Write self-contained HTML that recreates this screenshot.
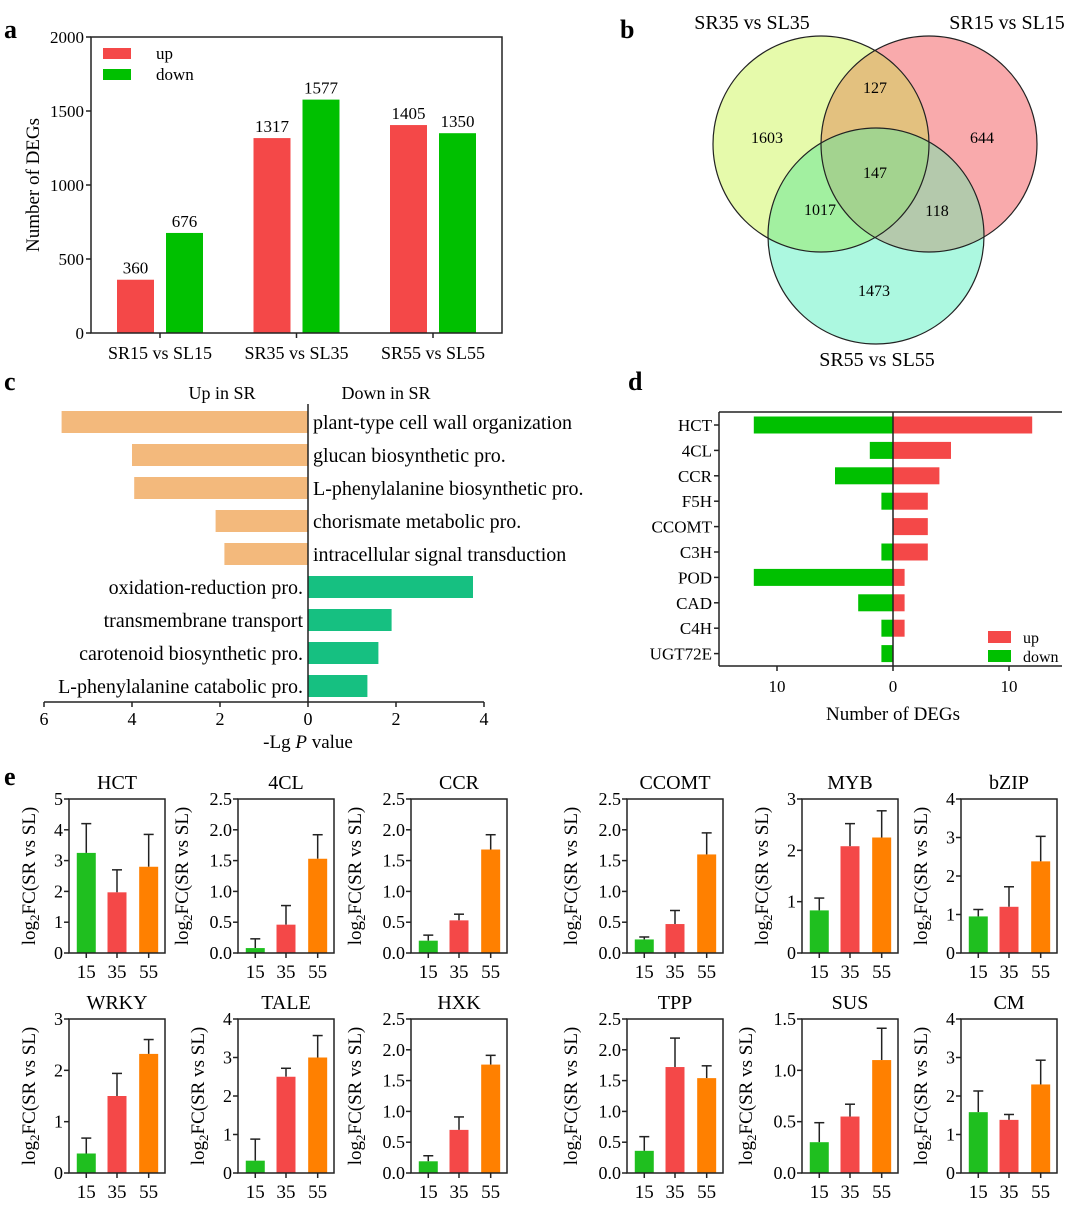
<!DOCTYPE html>
<html><head><meta charset="utf-8"><style>
html,body{margin:0;padding:0;background:#fff;}
svg, svg text{font-family:"Liberation Serif","DejaVu Serif",serif;}
</style></head><body>
<svg id="fig" width="1080" height="1207" viewBox="0 0 1080 1207" xmlns="http://www.w3.org/2000/svg" font-family="Liberation Serif, DejaVu Serif, serif">
<defs>
<clipPath id="cy"><circle cx="821" cy="144" r="108"/></clipPath>
<clipPath id="cr"><circle cx="929" cy="144" r="108"/></clipPath>
<clipPath id="cc"><circle cx="876" cy="236" r="108"/></clipPath>
</defs>
<text x="4" y="38" font-size="26" font-weight="bold">a</text>
<text x="620" y="38" font-size="26" font-weight="bold">b</text>
<text x="4" y="390" font-size="26" font-weight="bold">c</text>
<text x="628" y="390" font-size="26" font-weight="bold">d</text>
<text x="4" y="785" font-size="26" font-weight="bold">e</text>
<g id="venn">
<circle cx="821" cy="144" r="108" fill="#e6faab"/>
<circle cx="929" cy="144" r="108" fill="#f9aaac"/>
<circle cx="876" cy="236" r="108" fill="#acf8e0"/>
<g clip-path="url(#cy)"><circle cx="929" cy="144" r="108" fill="#e3c17f"/></g>
<g clip-path="url(#cy)"><circle cx="876" cy="236" r="108" fill="#a2f0a0"/></g>
<g clip-path="url(#cr)"><circle cx="876" cy="236" r="108" fill="#b4c9ac"/></g>
<g clip-path="url(#cy)"><g clip-path="url(#cr)"><circle cx="876" cy="236" r="108" fill="#a3d38f"/></g></g>
<circle cx="821" cy="144" r="108" fill="none" stroke="#222" stroke-width="1.2"/>
<circle cx="929" cy="144" r="108" fill="none" stroke="#222" stroke-width="1.2"/>
<circle cx="876" cy="236" r="108" fill="none" stroke="#222" stroke-width="1.2"/>
<g font-size="16" text-anchor="middle">
<text x="767" y="143">1603</text>
<text x="875" y="93">127</text>
<text x="982" y="143">644</text>
<text x="875" y="178">147</text>
<text x="820" y="215">1017</text>
<text x="937" y="216">118</text>
<text x="874" y="296">1473</text>
</g>
<g font-size="20" text-anchor="middle">
<text x="752" y="29">SR35 vs SL35</text>
<text x="1007" y="29">SR15 vs SL15</text>
<text x="877" y="366">SR55 vs SL55</text>
</g>
</g>
</svg>
<script>
// ---- Panel a data ----
const aCats = ["SR15 vs SL15","SR35 vs SL35","SR55 vs SL55"];
const aUp = [360,1317,1405];
const aDown = [676,1577,1350];
const aTicks = [0,500,1000,1500,2000];
// ---- Panel c data ----
const cUpTerms = ["plant-type cell wall organization","glucan biosynthetic pro.","L-phenylalanine biosynthetic pro.","chorismate metabolic pro.","intracellular signal transduction"];
const cUpVals = [5.6,4.0,3.95,2.1,1.9];
const cDownTerms = ["oxidation-reduction pro.","transmembrane transport","carotenoid biosynthetic pro.","L-phenylalanine catabolic pro."];
const cDownVals = [3.75,1.9,1.6,1.35];
const cTicks = [-6,-4,-2,0,2,4];
// ---- Panel d data ----
const dGenes = ["HCT","4CL","CCR","F5H","CCOMT","C3H","POD","CAD","C4H","UGT72E"];
const dUp = [12,5,4,3,3,3,1,1,1,0];
const dDown = [12,2,5,1,0,1,12,3,1,1];
const dTicks = [-10,0,10];
// ---- Panel e data ----
const eGenes = ["HCT","4CL","CCR","CCOMT","MYB","bZIP","WRKY","TALE","HXK","TPP","SUS","CM"];
const eMax = [5,2.5,2.5,2.5,3,4,3,4,2.5,2.5,1.5,4];
const eStep = [1,0.5,0.5,0.5,1,1,1,1,0.5,0.5,0.5,1];
const eV15 = [3.25,0.08,0.2,0.22,0.83,0.95,0.38,0.32,0.19,0.36,0.3,1.58];
const eV35 = [1.97,0.46,0.53,0.47,2.08,1.2,1.5,2.5,0.7,1.72,0.55,1.38];
const eV55 = [2.8,1.53,1.68,1.6,2.25,2.38,2.32,3.0,1.76,1.54,1.1,2.3];
const eE15 = [0.95,0.15,0.09,0.04,0.24,0.18,0.3,0.56,0.09,0.23,0.19,0.55];
const eE35 = [0.73,0.31,0.1,0.22,0.44,0.52,0.44,0.22,0.21,0.47,0.12,0.14];
const eE55 = [1.05,0.39,0.24,0.35,0.52,0.65,0.28,0.57,0.15,0.2,0.31,0.63];
const eXLabels = ["15","35","55"];

const NS="http://www.w3.org/2000/svg";
const svg=document.getElementById('fig');
function el(tag,attrs,parent,text){const e=document.createElementNS(NS,tag);for(const k in attrs)e.setAttribute(k,attrs[k]);if(text!==undefined)e.textContent=text;(parent||svg).appendChild(e);return e;}
function line(x1,y1,x2,y2,p,w){return el('line',{x1,y1,x2,y2,stroke:'#222','stroke-width':w||1.5},p);}

// ===== Panel a =====
(function(){
  const g=el('g',{});
  
  
  const L=91,R=502,T=37,B=333,max=2000;
  const y=v=>B-(v/max)*(B-T);
  const gc=[160,297,433];
  const x=i=>gc[0]+i*(gc[2]-gc[0])/(aCats.length-1);
  aCats.forEach((c,i)=>{
    const cx=x(i);
    const r=el('rect',{x:cx-43,y:y(aUp[i]),width:37,height:B-y(aUp[i]),fill:'#f44848'},g);
    
    
    const d=el('rect',{x:cx+6,y:y(aDown[i]),width:37,height:B-y(aDown[i]),fill:'#00c000'},g);
    
    
    el('text',{x:cx-24.5,y:y(aUp[i])-6,'font-size':17,'text-anchor':'middle'},g,String(aUp[i]));
    el('text',{x:cx+24.5,y:y(aDown[i])-6,'font-size':17,'text-anchor':'middle'},g,String(aDown[i]));
    line(cx,B,cx,B+5,g);
    const t=el('text',{x:cx,y:359,'font-size':18,'text-anchor':'middle'},g,c);
    
    
  });
  el('rect',{x:L,y:T,width:R-L,height:B-T,fill:'none',stroke:'#222','stroke-width':1.5},g);
  aTicks.forEach(v=>{line(L-5,y(v),L,y(v),g);el('text',{x:L-7,y:y(v)+6,'font-size':17,'text-anchor':'end'},g,String(v));});
  const yt=el('text',{x:0,y:0,'font-size':19,'text-anchor':'middle',transform:'translate(39,185) rotate(-90)'},g,'Number of DEGs');
  
  
  el('rect',{x:103,y:48,width:28,height:11,fill:'#f44848'},g);
  el('text',{x:156,y:59,'font-size':17},g,'up');
  el('rect',{x:103,y:69,width:28,height:11,fill:'#00c000'},g);
  el('text',{x:156,y:80,'font-size':17},g,'down');
})();

// ===== Panel c =====
(function(){
  const g=el('g',{});
  
  
  const x0=308,k=44,axY=702,row0=422,dy=33,bh=22;
  const x=v=>x0+v*k;
  cUpTerms.forEach((t,i)=>{
    const cy=row0+i*dy;
    const r=el('rect',{x:x(-cUpVals[i]),y:cy-bh/2,width:cUpVals[i]*k,height:bh,fill:'#f3b97c'},g);
    
    
    el('text',{x:x0+5,y:cy+7,'font-size':20},g,t);
  });
  cDownTerms.forEach((t,i)=>{
    const cy=row0+(i+cUpTerms.length)*dy;
    const r=el('rect',{x:x0,y:cy-bh/2,width:cDownVals[i]*k,height:bh,fill:'#16c081'},g);
    
    
    el('text',{x:x0-5,y:cy+7,'font-size':20,'text-anchor':'end'},g,t);
  });
  line(x0,404,x0,axY,g,1.5);
  line(x(cTicks[0]),axY,x(cTicks[cTicks.length-1]),axY,g,1.5);
  cTicks.forEach(v=>{line(x(v),axY,x(v),axY+5,g);el('text',{x:x(v),y:725,'font-size':18,'text-anchor':'middle'},g,String(Math.abs(v)));});
  const tt=el('text',{x:x0,y:748,'font-size':19,'text-anchor':'middle'},g);
  
  
  tt.innerHTML='-Lg <tspan font-style="italic">P</tspan> value';
  el('text',{x:222,y:399,'font-size':18,'text-anchor':'middle'},g,'Up in SR');
  el('text',{x:386,y:399,'font-size':18,'text-anchor':'middle'},g,'Down in SR');
})();

// ===== Panel d =====
(function(){
  const g=el('g',{});
  
  
  const x0=893,k=11.6,L=719,R=1062,T=412,B=666,row0=425,dy=25.4,bh=17;
  const x=v=>x0+v*k;
  dGenes.forEach((gn,i)=>{
    const cy=row0+i*dy;
    const d=el('rect',{x:x(-dDown[i]),y:cy-bh/2,width:dDown[i]*k,height:bh,fill:'#00c000'},g);
    
    
    const u=el('rect',{x:x0,y:cy-bh/2,width:dUp[i]*k,height:bh,fill:'#f44848'},g);
    
    
    line(L-5,cy,L,cy,g);
    el('text',{x:L-7,y:cy+6,'font-size':17,'text-anchor':'end'},g,gn);
  });
  line(L,T,R,T,g);line(L,T,L,B,g);line(L,B,R,B,g);
  line(x0,T,x0,B,g,1.5);
  dTicks.forEach(v=>{line(x(v),B,x(v),B+5,g);el('text',{x:x(v),y:692,'font-size':17,'text-anchor':'middle'},g,String(Math.abs(v)));});
  const tt=el('text',{x:x0,y:720,'font-size':19,'text-anchor':'middle'},g,'Number of DEGs');
  
  
  el('rect',{x:988,y:631,width:23,height:12,fill:'#f44848'},g);
  el('text',{x:1023,y:643,'font-size':16},g,'up');
  el('rect',{x:988,y:650,width:23,height:12,fill:'#00c000'},g);
  el('text',{x:1023,y:662,'font-size':16},g,'down');
})();

// ===== Panel e =====
(function(){
  const lefts=[69,238,411,627,802,961];
  const tops=[799,1019];
  const W=96,H=154;
  const cols=['#1fbf1f','#f44848','#ff8000'];
  eGenes.forEach((gn,i)=>{
    const g=el('g',{});
    
    
    const L=lefts[i%6],T=tops[Math.floor(i/6)],B=T+H,R=L+W;
    const y=v=>B-(v/eMax[i])*H;
    const vals=[eV15[i],eV35[i],eV55[i]],errs=[eE15[i],eE35[i],eE55[i]];
    const fr=[0.18,0.5,0.83];
    vals.forEach((v,j)=>{
      const cx=L+fr[j]*W;
      line(cx,y(v+errs[j]),cx,y(v),g,1.5);
      line(cx-5,y(v+errs[j]),cx+5,y(v+errs[j]),g,1.5);
      const r=el('rect',{x:cx-9.5,y:y(v),width:19,height:B-y(v),fill:cols[j]},g);
      
      
      line(cx,B,cx,B+5,g);
      el('text',{x:cx,y:B+25,'font-size':19,'text-anchor':'middle'},g,eXLabels[j]);
    });
    el('rect',{x:L,y:T,width:W,height:H,fill:'none',stroke:'#222','stroke-width':1.5},g);
    const dec=eStep[i]<1;
    const n=Math.round(eMax[i]/eStep[i]);
    for(let t=0;t<=n;t++){
      const v=t*eStep[i];
      line(L-5,y(v),L,y(v),g);
      el('text',{x:L-6,y:y(v)+6,'font-size':18,'text-anchor':'end'},g,dec?v.toFixed(1):String(v));
    }
    const lw=dec?25:9;
    const tx=L-12-lw-13;
    const yt=el('text',{x:0,y:0,'font-size':19,'text-anchor':'middle',transform:'translate('+tx+','+(T+H/2)+') rotate(-90)'},g);
    yt.innerHTML='log<tspan font-size="13" dy="4">2</tspan><tspan dy="-4">FC(SR vs SL)</tspan>';
    
    
    const tt=el('text',{x:L+W/2,y:T-10,'font-size':20,'text-anchor':'middle'},g,gn);
    
    
  });
})();
</script>
</body></html>
